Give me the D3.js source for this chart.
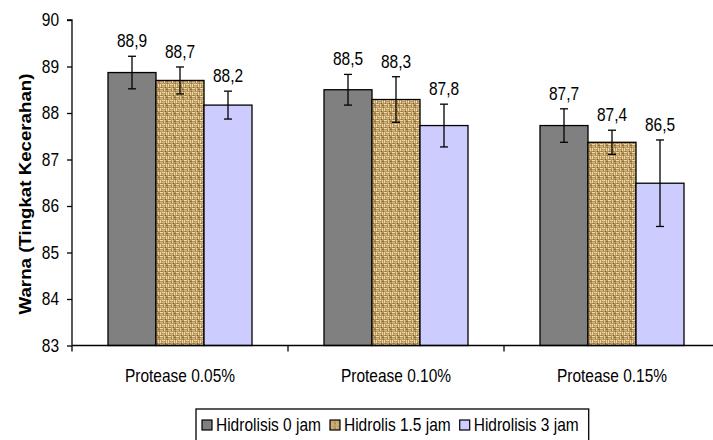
<!DOCTYPE html>
<html>
<head>
<meta charset="utf-8">
<script src="https://cdn.jsdelivr.net/npm/d3@7"></script>
<style>
  html, body { margin: 0; padding: 0; background: #fff; }
  svg { display: block; }
  text { font-family: "Liberation Sans", Arial, sans-serif; fill: #000; }
</style>
</head>
<body>
<svg id="chart" width="713" height="440"></svg>
<script>
// ---- data ----
const categories = ["Protease 0.05%", "Protease 0.10%", "Protease 0.15%"];
const seriesNames = ["Hidrolisis 0 jam", "Hidrolis 1.5 jam", "Hidrolisis 3 jam"];
const hidrolisis0 = [88.87, 88.50, 87.73];
const hidrolisis15 = [88.70, 88.29, 87.37];
const hidrolisis3 = [88.17, 87.73, 86.49];
const err0 = [0.35, 0.33, 0.36];
const err15 = [0.29, 0.49, 0.26];
const err3 = [0.30, 0.46, 0.93];
const valueLabels0 = ["88,9", "88,5", "87,7"];
const valueLabels15 = ["88,7", "88,3", "87,4"];
const valueLabels3 = ["88,2", "87,8", "86,5"];
const yTicks = [83, 84, 85, 86, 87, 88, 89, 90];
const yTitle = "Warna (Tingkat Kecerahan)";

const seriesValues = [hidrolisis0, hidrolisis15, hidrolisis3];
const seriesErr = [err0, err15, err3];
const seriesLabels = [valueLabels0, valueLabels15, valueLabels3];

// ---- layout ----
const mLeft = 72, mRight = 720, mTop = 20, mBottom = 345.5;
const fills = ["#808080", "url(#burlap)", "#ccccff"];
const legendFills = ["#808080", "url(#burlapSmall)", "#ccccff"];
const SY = 1.15; // vertical text stretch
const FS = "15.5px";

const svg = d3.select("#chart");

// burlap texture pattern
const defs = svg.append("defs");
function burlap(id, s) {
  const n = 8;
  const p = defs.append("pattern").attr("id", id).attr("patternUnits", "userSpaceOnUse")
    .attr("width", n * s).attr("height", n * s);
  p.append("rect").attr("width", n * s).attr("height", n * s).attr("fill", "#b8955a");
  const light = "#f1e2b4", mid = "#d9bf85", dark = "#6e4f22";
  const segs = [
    [0, 0, 3, 1, light, 0.95], [4, 0, 1, 3, light, 0.9],
    [0, 2, 3, 1, mid, 0.9], [6, 1, 2, 1, dark, 0.6],
    [0, 4, 1, 3, light, 0.9], [2, 4, 3, 1, light, 0.95],
    [2, 6, 3, 1, mid, 0.9], [6, 4, 1, 3, light, 0.85],
    [5, 7, 1, 1, dark, 0.7], [1, 7, 1, 1, dark, 0.55],
    [3, 1, 1, 2, dark, 0.45], [7, 3, 1, 1, dark, 0.5]
  ];
  segs.forEach(([x, y, w, h, c, o]) => {
    p.append("rect").attr("x", x * s).attr("y", y * s).attr("width", w * s).attr("height", h * s)
      .attr("fill", c).attr("opacity", o);
  });
}
burlap("burlap", 1);
burlap("burlapSmall", 0.6);

const y = d3.scaleLinear().domain([83, 90]).range([mBottom, mTop]);
const x0 = d3.scaleBand().domain(categories).range([mLeft, mRight]).padding(0);
const x1 = d3.scaleBand().domain(d3.range(seriesNames.length))
  .range([0, x0.bandwidth()]).paddingInner(0).paddingOuter(0.75);

const rows = [];
categories.forEach((c, ci) => {
  seriesNames.forEach((s, si) => {
    rows.push({ c, ci, si, v: seriesValues[si][ci], e: seriesErr[si][ci], lab: seriesLabels[si][ci] });
  });
});

const g = svg.append("g");
g.selectAll("rect.bar").data(rows).enter().append("rect")
  .attr("class", "bar")
  .attr("x", d => x0(d.c) + x1(d.si))
  .attr("y", d => y(d.v))
  .attr("width", x1.bandwidth())
  .attr("height", d => y(83) - y(d.v))
  .attr("fill", d => fills[d.si])
  .attr("stroke", "#000").attr("stroke-width", 1.3);

// error bars
const eb = g.selectAll("g.err").data(rows).enter().append("g").attr("class", "err")
  .attr("stroke", "#000").attr("stroke-width", 1.3);
const cx = d => x0(d.c) + x1(d.si) + x1.bandwidth() / 2;
eb.append("line").attr("x1", cx).attr("x2", cx)
  .attr("y1", d => y(d.v + d.e)).attr("y2", d => y(d.v - d.e));
eb.append("line").attr("x1", d => cx(d) - 4).attr("x2", d => cx(d) + 4)
  .attr("y1", d => y(d.v + d.e)).attr("y2", d => y(d.v + d.e));
eb.append("line").attr("x1", d => cx(d) - 4).attr("x2", d => cx(d) + 4)
  .attr("y1", d => y(d.v - d.e)).attr("y2", d => y(d.v - d.e));

// value labels
g.selectAll("text.val").data(rows).enter().append("text")
  .attr("class", "val")
  .attr("transform", d => `translate(${cx(d)},${y(d.v + d.e) - 9}) scale(1,${SY})`)
  .attr("text-anchor", "middle")
  .style("font-size", FS)
  .text(d => d.lab);

// y axis
const yAxis = d3.axisLeft(y).tickValues(yTicks).tickSize(5).tickPadding(8).tickFormat(d3.format("d"));
const ya = svg.append("g").attr("transform", `translate(${mLeft},0)`).call(yAxis);
ya.select(".domain").attr("stroke", "#000").attr("stroke-width", 1.3).attr("d", `M-5,${mTop}H0V${mBottom}`);
ya.selectAll(".tick line").attr("stroke", "#000").attr("stroke-width", 1.3);
ya.selectAll(".tick text").style("font-size", FS).style("font-family", '"Liberation Sans", Arial, sans-serif')
  .attr("transform", `scale(1,${SY})`).attr("dy", "0.33em").attr("y", 0);

// x axis
const xa = svg.append("g").attr("transform", `translate(0,${mBottom})`);
xa.append("line").attr("x1", mLeft).attr("x2", mRight).attr("stroke", "#000").attr("stroke-width", 1.3);
const boundaries = categories.map(c => x0(c)).concat([x0(categories[categories.length - 1]) + x0.bandwidth()]);
xa.selectAll("line.tk").data(boundaries).enter().append("line").attr("class", "tk")
  .attr("x1", d => d).attr("x2", d => d).attr("y1", 0).attr("y2", 6)
  .attr("stroke", "#000").attr("stroke-width", 1.3);
xa.selectAll("text.cat").data(categories).enter().append("text").attr("class", "cat")
  .attr("transform", d => `translate(${x0(d) + x0.bandwidth() / 2},36) scale(1,${SY})`)
  .attr("text-anchor", "middle").style("font-size", FS).text(d => d);

// y title
svg.append("text")
  .attr("transform", `translate(31,194) rotate(-90) scale(1.1,1)`)
  .attr("text-anchor", "middle")
  .style("font-size", "17px").style("font-weight", "bold")
  .text(yTitle);

// legend
const lg = svg.append("g");
const lbox = lg.append("rect").attr("x", 196).attr("y", 409).attr("height", 40)
  .attr("fill", "#fff").attr("stroke", "#000").attr("stroke-width", 1.3);
let lx = 202;
seriesNames.forEach((s, i) => {
  lg.append("rect").attr("x", lx).attr("y", 420).attr("width", 10).attr("height", 10)
    .attr("fill", legendFills[i]).attr("stroke", "#000").attr("stroke-width", 1.2);
  const t = lg.append("text").attr("transform", `translate(${lx + 14},430.5) scale(1,${SY})`)
    .style("font-size", FS).text(s);
  const w = t.node().getComputedTextLength();
  lx = lx + 14 + w + 9;
});
lbox.attr("width", lx - 196 + 1);
</script>
</body>
</html>
